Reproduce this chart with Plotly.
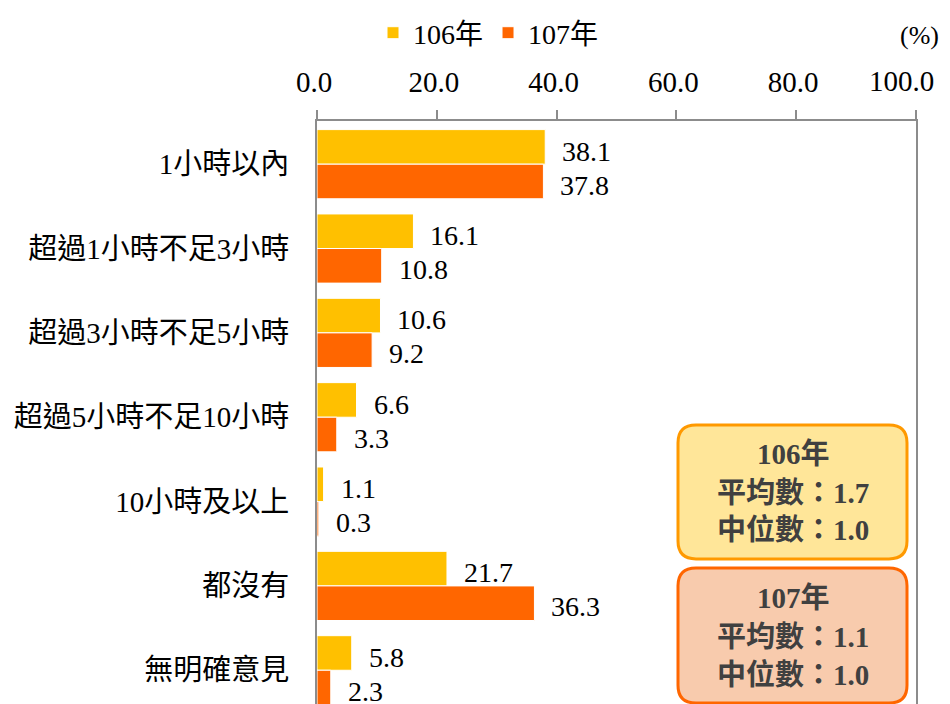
import plotly.graph_objects as go

categories = ["1小時以內", "超過1小時不足3小時", "超過3小時不足5小時", "超過5小時不足10小時",
              "10小時及以上", "都沒有", "無明確意見"]
y106 = [38.1, 16.1, 10.6, 6.6, 1.1, 21.7, 5.8]
y107 = [37.8, 10.8, 9.2, 3.3, 0.3, 36.3, 2.3]
tickvals = [0, 20, 40, 60, 80, 100]
box106 = ["106年", "平均數：1.7", "中位數：1.0"]
box107 = ["107年", "平均數：1.1", "中位數：1.0"]

YELLOW = "#FFC000"
ORANGE = "#FF6600"
SERIF = "'Liberation Serif', 'Noto Sans CJK TC', serif"

# page has an 8px body margin, so the figure is drawn 8px smaller and offset
OFF = 8
W, H = 950 - OFF, 704 - OFF
ML, MR, MT, MB = 317 - OFF, 34, 117 - OFF, 0
PW, PH = W - ML - MR, H - MT - MB


def px_x(p):
    return (p - OFF - ML) / PW


def px_y(p):
    return (H - MB - (p - OFF)) / PH


def round_rect(x0, y0, x1, y1, r=18):
    a0, a1 = px_x(x0), px_x(x1)
    b0, b1 = px_y(y1), px_y(y0)
    rx, ry = r / PW, r / PH
    return (f"M{a0+rx},{b0} L{a1-rx},{b0} Q{a1},{b0} {a1},{b0+ry} "
            f"L{a1},{b1-ry} Q{a1},{b1} {a1-rx},{b1} L{a0+rx},{b1} "
            f"Q{a0},{b1} {a0},{b1-ry} L{a0},{b0+ry} Q{a0},{b0} {a0+rx},{b0} Z")


fig = go.Figure()
fig.add_trace(go.Bar(y=categories, x=y106, orientation="h", name="106年",
                     marker=dict(color=YELLOW, line=dict(color="white", width=1))))
fig.add_trace(go.Bar(y=categories, x=y107, orientation="h", name="107年",
                     marker=dict(color=ORANGE, line=dict(color="white", width=1))))

anns = []
for c, a, b in zip(categories, y106, y107):
    anns.append(dict(x=a, y=c, text=f"{a:.1f}", showarrow=False, xanchor="left",
                     xshift=15, yshift=13, font=dict(family=SERIF, size=28, color="black")))
    anns.append(dict(x=b, y=c, text=f"{b:.1f}", showarrow=False, xanchor="left",
                     xshift=15, yshift=-21, font=dict(family=SERIF, size=28, color="black")))

# last tick label is pulled in so it stays inside the page
ticktext = [f"{v:.1f}" for v in tickvals[:-1]] + [""]
anns.append(dict(x=tickvals[-1], y=px_y(77), yref="paper", text=f"{tickvals[-1]:.1f}",
                 showarrow=False, xanchor="right", yanchor="middle", xshift=20,
                 font=dict(family=SERIF, size=29, color="black")))

anns.append(dict(x=px_x(941), y=px_y(31), xref="paper", yref="paper", text="(%)",
                 showarrow=False, xanchor="right", yanchor="middle",
                 font=dict(family=SERIF, size=26, color="black")))

shapes = [
    dict(type="path", xref="paper", yref="paper", path=round_rect(678, 423, 907, 558),
         fillcolor="#FFE699", line=dict(color="#FF9900", width=3), layer="above"),
    dict(type="path", xref="paper", yref="paper", path=round_rect(678, 567, 907, 703),
         fillcolor="#F8CBAD", line=dict(color=ORANGE, width=3), layer="above"),
]

for lines, ys in [(box106, [452, 492, 529]), (box107, [597, 637, 675])]:
    for t, yy in zip(lines, ys):
        anns.append(dict(x=px_x(793), y=px_y(yy), xref="paper", yref="paper",
                         text=f"<b>{t}</b>", showarrow=False, xanchor="center", yanchor="middle",
                         font=dict(family=SERIF, size=29, color="#404040")))

fig.update_layout(
    width=W, height=H,
    margin=dict(l=ML, r=MR, t=MT, b=MB),
    paper_bgcolor="white", plot_bgcolor="white",
    barmode="group", bargap=0.18, bargroupgap=0,
    showlegend=True,
    legend=dict(orientation="h", x=px_x(373), y=px_y(28), xanchor="left", yanchor="middle",
                font=dict(family=SERIF, size=28, color="black"), itemwidth=30,
                traceorder="normal", bgcolor="rgba(0,0,0,0)"),
    xaxis=dict(side="top", range=[0, 100], tickvals=tickvals, ticktext=ticktext,
               showgrid=False, zeroline=False, showline=True, linecolor="#8c8c8c", linewidth=2,
               ticks="outside", ticklen=9, tickwidth=2, tickcolor="#8c8c8c",
               ticklabelstandoff=6, ticklabelshift=-3,
               tickfont=dict(family=SERIF, size=29, color="black")),
    yaxis=dict(type="category", categoryorder="array", categoryarray=categories,
               range=[6.40, -0.512], showgrid=False, zeroline=False,
               showline=True, mirror=True, linecolor="#8c8c8c", linewidth=2,
               ticks="", ticklabelstandoff=20,
               tickfont=dict(family=SERIF, size=29, color="black")),
    annotations=anns, shapes=shapes,
)

fig.write_html("out.html")
